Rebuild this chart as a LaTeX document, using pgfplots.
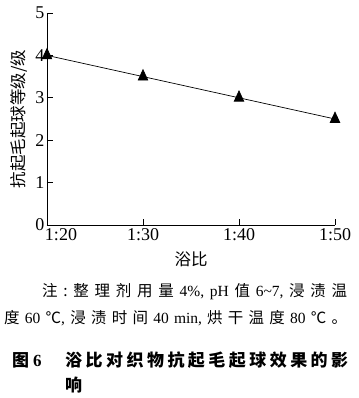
\documentclass[border=0pt]{standalone}
\usepackage{fontspec}
\setmainfont{Liberation Serif}
\newfontfamily\cjk{Noto Sans CJK SC}
\usepackage{pgfplots}
\pgfplotsset{compat=1.18}
\newcommand{\f}{\hfill}
\begin{document}
\begin{tikzpicture}[x=1pt,y=1pt]
\useasboundingbox (-47,-173) rectangle (311,225);
\begin{axis}[
  at={(0,0)}, anchor=south west,
  scale only axis, width=288pt, height=212pt,
  xmin=0, xmax=3, ymin=0, ymax=5,
  axis lines=left,
  axis line style={-, line width=0.8pt},
  xtick={0,1,2,3}, xticklabels={{\hspace*{28pt}1:20},1:30,1:40,1:50},
  ytick={0,1,2,3,4,5},
  tick align=inside,
  major tick length=6pt,
  tick style={black, line width=0.8pt},
  /pgf/number format/assume math mode=true,
  tick label style={font=\fontsize{18}{18}\selectfont},
  xticklabel style={yshift=0pt},
  yticklabel style={xshift=1pt},
  xlabel={\cjk 浴比},
  ylabel={\cjk 抗起毛起球等级/级},
  label style={font=\fontsize{16.5}{17}\selectfont},
  xlabel style={at={(axis description cs:0.5,0)}, anchor=center, yshift=-34pt},
  ylabel style={at={(axis description cs:0,0.5)}, anchor=center, yshift=28pt},
  clip=false,
]
\addplot[black, line width=0.7pt, mark=triangle*, mark size=5.5pt, mark options={fill=black, yscale=1.25}]
  coordinates {(0,4.0) (1,3.5) (2,3.0) (3,2.5)};
\end{axis}
\node[anchor=base west, inner sep=0, font=\fontsize{15.5}{16}\selectfont] at (-5,-71)
  {\makebox[305pt][s]{\cjk 注\f :\f 整\f 理\f 剂\f 用\f 量\f \normalfont 4\%,\f pH\f \cjk 值\f \normalfont 6\textasciitilde 7,\f \cjk 浸\f 渍\f 温}};
\node[anchor=base west, inner sep=0, font=\fontsize{15.5}{16}\selectfont] at (-43,-98)
  {\makebox[343pt][s]{\cjk 度\f \normalfont 60\f \cjk ℃\normalfont ,\f \cjk 浸\f 渍\f 时\f 间\f \normalfont 40\f min,\f \cjk 烘\f 干\f 温\f 度\f \normalfont 80\f \cjk ℃\f 。}};
\node[anchor=base west, inner sep=0, font=\fontsize{17}{17}\selectfont\bfseries] at (-35,-141)
  {{\cjk 图}\hspace{4pt}6};
\node[anchor=base west, inner sep=0, font=\fontsize{17}{17}\selectfont\bfseries] at (18,-141)
  {\makebox[283pt][s]{\cjk 浴\f 比\f 对\f 织\f 物\f 抗\f 起\f 毛\f 起\f 球\f 效\f 果\f 的\f 影}};
\node[anchor=base west, inner sep=0, font=\fontsize{17}{17}\selectfont\bfseries] at (18,-166)
  {\cjk 响};
\end{tikzpicture}
\end{document}
